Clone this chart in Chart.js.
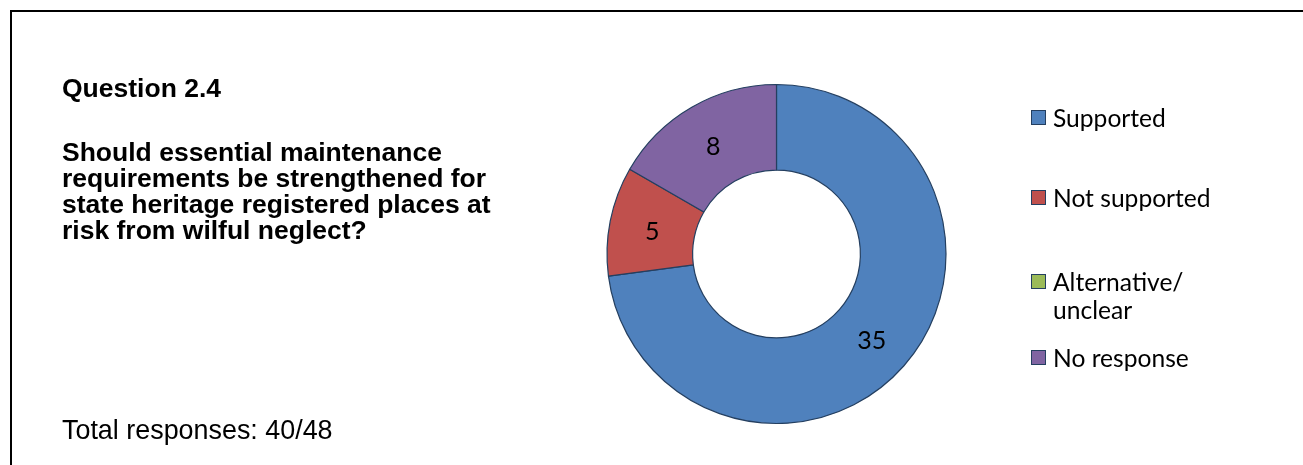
<!DOCTYPE html>
<html>
<head>
<meta charset="utf-8">
<title>Question 2.4</title>
<script src="https://cdn.jsdelivr.net/npm/chart.js@4.4.1/dist/chart.umd.min.js"></script>
<style>
  html, body { margin: 0; padding: 0; background: #fff; }
  body { width: 1303px; height: 465px; position: relative; overflow: hidden; }
  .frame {
    position: absolute; left: 10px; top: 10px; width: 1300px; height: 470px;
    border-top: 2px solid #000; border-left: 2px solid #000; box-sizing: border-box;
  }
  #chart { position: absolute; left: 0; top: 0; }
  .question {
    position: absolute; left: 62px; color: #000;
    font-family: "Liberation Sans", Arial, sans-serif; font-weight: bold; font-size: 26.5px;
    line-height: 26px; white-space: nowrap;
  }
  .total {
    position: absolute; left: 62px; top: 416px; color: #000;
    font-family: "Liberation Sans", Arial, sans-serif; font-size: 26.9px; line-height: 28px;
    white-space: nowrap;
  }
  .legend-row { position: absolute; left: 1031px; }
  .legend-row .swatch {
    position: absolute; left: 0; top: 6px; width: 13px; height: 13px;
    border: 1px solid #243F60;
  }
  .legend-row .text {
    position: absolute; left: 22px; top: 0; width: 175px;
    font-family: Lato, "Open Sans", sans-serif; font-size: 24.6px; line-height: 28px; color: #000;
  }
</style>
</head>
<body>
<div class="frame"></div>
<canvas id="chart" width="1303" height="465"></canvas>
<div class="question" id="qnum" style="top:75px"></div>
<div class="question" id="qtext" style="top:139px"></div>
<div class="total" id="total"></div>
<div id="legend"></div>
<script>
// Response categories and counts
const categories = ['Supported', 'Not supported', 'Alternative/unclear', 'No response'];
const responses = [35, 5, 0, 8];
const sliceColours = ['#4F81BD', '#C0504D', '#9BBB59', '#8064A2'];
const outlineColour = '#243F60';

// Heading text
const questionNumber = 'Question 2.4';
const questionLines = [
  'Should essential maintenance',
  'requirements be strengthened for',
  'state heritage registered places at',
  'risk from wilful neglect?'
];

// Heading and footer
document.getElementById('qnum').textContent = questionNumber;
const qtext = document.getElementById('qtext');
questionLines.forEach((line, i) => {
  if (i) qtext.appendChild(document.createElement('br'));
  qtext.appendChild(document.createTextNode(line));
});
const answered = responses[0] + responses[1] + responses[2];
const totalAll = responses.reduce((a, b) => a + b, 0);
document.getElementById('total').textContent = 'Total responses: ' + answered + '/' + totalAll;

// Legend on the right; long names may wrap after a slash
const legendTops = [104, 184, 268, 344];
const legend = document.getElementById('legend');
categories.forEach((name, i) => {
  const row = document.createElement('div');
  row.className = 'legend-row';
  row.style.top = legendTops[i] + 'px';
  const sw = document.createElement('span');
  sw.className = 'swatch';
  sw.style.background = sliceColours[i];
  const tx = document.createElement('div');
  tx.className = 'text';
  name.split('/').forEach((part, j, parts) => {
    tx.appendChild(document.createTextNode(part + (j < parts.length - 1 ? '/' : '')));
    if (j < parts.length - 1) tx.appendChild(document.createElement('wbr'));
  });
  row.appendChild(sw);
  row.appendChild(tx);
  legend.appendChild(row);
});

// Value labels in the middle of each ring segment
const valueLabels = {
  id: 'valueLabels',
  afterDatasetsDraw(chart) {
    const { ctx } = chart;
    const meta = chart.getDatasetMeta(0);
    const values = chart.data.datasets[0].data;
    ctx.save();
    ctx.font = '25px Lato, "Open Sans", sans-serif';
    ctx.fillStyle = '#000';
    ctx.textAlign = 'center';
    ctx.textBaseline = 'middle';
    meta.data.forEach((arc, i) => {
      if (!values[i]) return;
      const p = arc.tooltipPosition(true);
      ctx.fillText(String(values[i]), p.x, p.y + 3);
    });
    ctx.restore();
  }
};

new Chart(document.getElementById('chart'), {
  type: 'doughnut',
  data: {
    labels: categories,
    datasets: [{
      data: responses,
      backgroundColor: sliceColours,
      borderColor: outlineColour,
      borderWidth: 1.2
    }]
  },
  options: {
    responsive: false,
    animation: false,
    devicePixelRatio: 1,
    radius: 169.5,
    cutout: '49.5%',
    layout: { padding: { left: 440, right: 190, top: 60, bottom: 17 } },
    plugins: {
      legend: { display: false },
      tooltip: { enabled: false },
      title: { display: false }
    }
  },
  plugins: [valueLabels]
});
</script>
</body>
</html>
